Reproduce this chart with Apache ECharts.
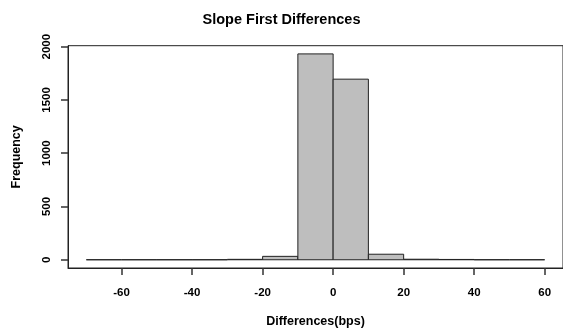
<!DOCTYPE html>
<html>
<head>
<meta charset="utf-8">
<script src="https://cdn.jsdelivr.net/npm/echarts@6/dist/echarts.min.js"></script>
<style>
  html, body { margin: 0; padding: 0; background: #fff; }
  #chart { width: 563px; height: 333px; }
</style>
</head>
<body>
<div id="chart"></div>
<script>
// histogram bins (left edges, width 10) and counts
const binStarts = [-70, -60, -50, -40, -30, -20, -10, 0, 10, 20, 30, 40, 50]
const binWidth = 10
const counts = [0, 0, 0, 0, 4, 32, 1932, 1695, 52, 5, 3, 0, 0]
const xTicks = [-60, -40, -20, 0, 20, 40, 60]
const yTicks = [0, 500, 1000, 1500, 2000]

const chart = echarts.init(document.getElementById('chart'))
const font = 'Liberation Sans, Arial, sans-serif'

const binData = binStarts.map((s, i) => [s, s + binWidth, counts[i]])

chart.setOption({
  animation: false,
  title: {
    text: 'Slope First Differences',
    left: 'center',
    top: 7,
    textStyle: { fontFamily: font, fontSize: 14.5, fontWeight: 'bold', color: '#000' }
  },
  grid: {
    left: 68, top: 45.7, right: -2, bottom: 64,
    show: true, borderColor: '#222', borderWidth: 1
  },
  xAxis: {
    type: 'value',
    min: -75.2, max: 65.2,
    name: 'Differences(bps)',
    nameLocation: 'middle',
    nameGap: 47,
    nameTextStyle: { fontFamily: font, fontSize: 12.5, fontWeight: 'bold', color: '#000' },
    axisLine: { show: true, onZero: false, lineStyle: { color: '#222' } },
    splitLine: { show: false },
    axisTick: { show: true, length: 7, lineStyle: { color: '#333', width: 1.5 }, customValues: xTicks },
    axisLabel: {
      fontFamily: font, fontSize: 11.5, fontWeight: 'bold', color: '#000', margin: 19,
      customValues: xTicks, formatter: v => String(v)
    }
  },
  yAxis: {
    type: 'value',
    min: -77.3, max: 2009,
    name: 'Frequency',
    nameLocation: 'middle',
    nameGap: 45,
    nameTextStyle: { fontFamily: font, fontSize: 12.5, fontWeight: 'bold', color: '#000' },
    axisLine: { show: true, onZero: false, lineStyle: { color: '#222' } },
    splitLine: { show: false },
    axisTick: { show: true, length: 7, lineStyle: { color: '#333', width: 1.5 }, customValues: yTicks },
    axisLabel: {
      fontFamily: font, fontSize: 11.5, fontWeight: 'bold', color: '#000', margin: 15, rotate: 90,
      customValues: yTicks, formatter: v => String(v)
    }
  },
  series: [{
    type: 'custom',
    data: binData,
    encode: { x: [0, 1], y: 2 },
    renderItem: (params, api) => {
      const p0 = api.coord([api.value(0), api.value(2)])
      const p1 = api.coord([api.value(1), 0])
      return {
        type: 'rect',
        shape: { x: p0[0], y: p0[1], width: p1[0] - p0[0], height: p1[1] - p0[1] },
        style: { fill: '#bebebe', stroke: '#222', lineWidth: 1 }
      }
    }
  }]
})
</script>
</body>
</html>
